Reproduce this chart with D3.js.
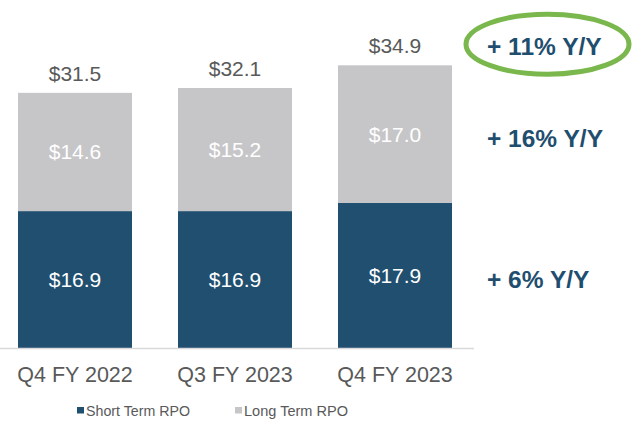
<!DOCTYPE html>
<html>
<head>
<meta charset="utf-8">
<script src="https://cdn.jsdelivr.net/npm/d3@7"></script>
<style>
  html, body { margin: 0; padding: 0; background: #fff; }
  svg { display: block; font-family: "Liberation Sans", Arial, sans-serif; }
</style>
</head>
<body>
<svg id="chart" width="640" height="431"></svg>
<script>
const categories = ["Q4 FY 2022", "Q3 FY 2023", "Q4 FY 2023"];
const shortTerm = [16.9, 16.9, 17.9];
const longTerm = [14.6, 15.2, 17.0];
const totals = [31.5, 32.1, 34.9];
const seriesNames = ["Short Term RPO", "Long Term RPO"];
const growthLabels = ["+ 11% Y/Y", "+ 16% Y/Y", "+ 6% Y/Y"];

const colors = { short: "#204f6f", long: "#c6c6c8", text: "#595959", growth: "#1f4e6f", ring: "#7ab84e", axis: "#d9d9d9" };

const svg = d3.select("#chart");
const x = d3.scaleBand().domain(categories).range([18, 452]).paddingInner(0.2875).paddingOuter(0);
const y = d3.scaleLinear().domain([0, 40]).range([348, 24]);

const rows = categories.map((c, i) => ({ cat: c, short: shortTerm[i], long: longTerm[i], total: totals[i] }));
const stack = d3.stack().keys(["short", "long"])(rows);

// bars
const layerColor = { short: colors.short, long: colors.long };
svg.append("g").selectAll("g").data(stack).join("g")
  .attr("fill", d => layerColor[d.key])
  .selectAll("rect").data(d => d).join("rect")
  .attr("x", d => x(d.data.cat))
  .attr("width", x.bandwidth())
  .attr("y", d => y(d[1]))
  .attr("height", d => y(d[0]) - y(d[1]));

// segment labels
stack.forEach(layer => {
  svg.append("g").selectAll("text").data(layer).join("text")
    .attr("x", d => x(d.data.cat) + x.bandwidth() / 2)
    .attr("y", d => (y(d[0]) + y(d[1])) / 2 + 7.5)
    .attr("text-anchor", "middle")
    .attr("fill", "#ffffff")
    .attr("font-size", 21)
    .text(d => "$" + d.data[layer.key].toFixed(1));
});

// totals
svg.append("g").selectAll("text").data(rows).join("text")
  .attr("x", d => x(d.cat) + x.bandwidth() / 2)
  .attr("y", d => y(d.total) - 12)
  .attr("text-anchor", "middle")
  .attr("fill", colors.text)
  .attr("font-size", 21)
  .text(d => "$" + d.total.toFixed(1));

// axis
const axis = svg.append("g").attr("transform", "translate(0,348.5)")
  .call(d3.axisBottom(x).tickSize(0).tickPadding(0));
axis.select(".domain").attr("d", "M0,0H474").attr("stroke", colors.axis).attr("stroke-width", 1.5);
axis.selectAll(".tick text")
  .attr("y", 33.5).attr("dy", null)
  .attr("font-size", 21.5)
  .attr("font-family", "'Liberation Sans', Arial, sans-serif")
  .attr("fill", colors.text);

// growth annotations
const growthY = [55, 147, 288];
svg.append("g").selectAll("text").data(growthLabels).join("text")
  .attr("x", 487)
  .attr("y", (d, i) => growthY[i])
  .attr("fill", colors.growth)
  .attr("font-size", 24.5)
  .attr("font-weight", "bold")
  .text(d => d);

svg.append("ellipse")
  .attr("cx", 547.5).attr("cy", 44.2).attr("rx", 81.5).attr("ry", 30)
  .attr("fill", "none").attr("stroke", colors.ring).attr("stroke-width", 5);

// legend
const legendX = [77, 235];
const legendW = [104, 104];
const lg = svg.append("g").selectAll("g").data(seriesNames).join("g")
  .attr("transform", (d, i) => `translate(${legendX[i]},0)`);
lg.append("rect").attr("x", 0).attr("y", 407).attr("width", 7).attr("height", 6.5)
  .attr("fill", (d, i) => i === 0 ? colors.short : colors.long);
lg.append("text").attr("x", 9).attr("y", 416).attr("font-size", 15)
  .attr("textLength", (d, i) => legendW[i]).attr("lengthAdjust", "spacingAndGlyphs")
  .attr("fill", colors.text).text(d => d);
</script>
</body>
</html>
